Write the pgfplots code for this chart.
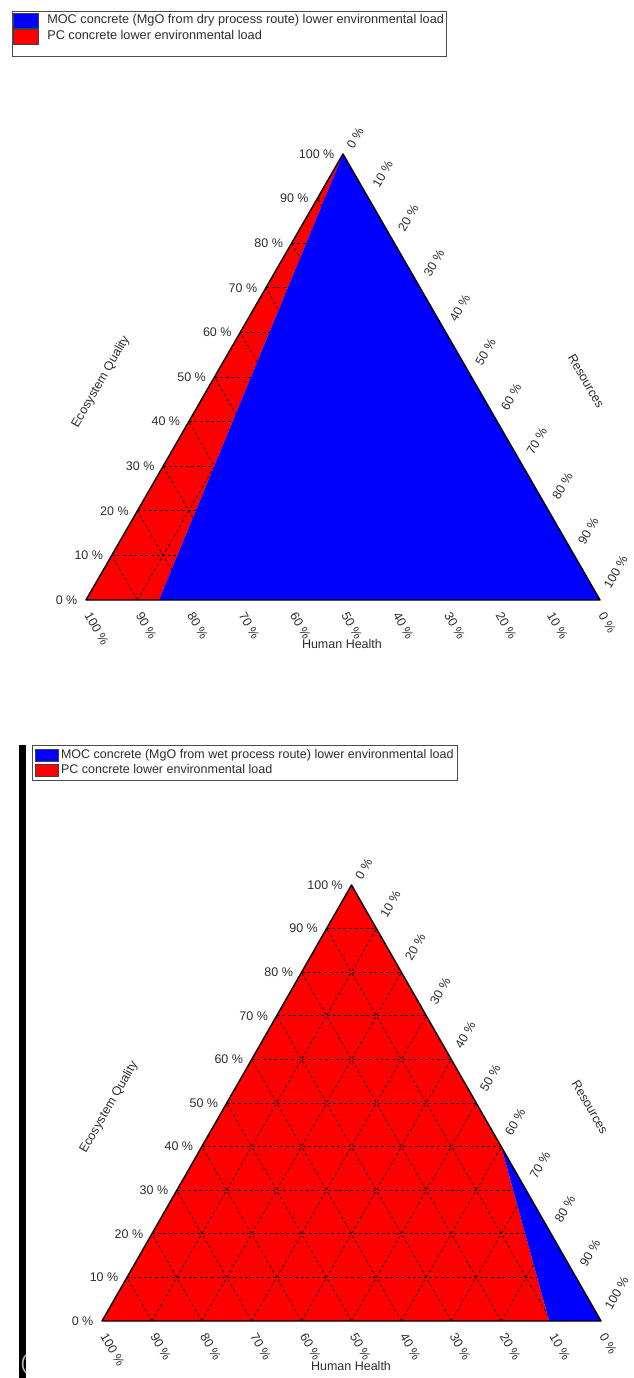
\documentclass[border=0pt]{standalone}
\usepackage{fontspec}
\setmainfont{Liberation Sans}
\usepackage{pgfplots}
\pgfplotsset{compat=1.18}

\definecolor{mocblue}{RGB}{0,0,255}
\definecolor{pcred}{RGB}{255,0,0}
\definecolor{inkgray}{RGB}{45,45,45}

\newcommand{\labfont}{\fontsize{12.5}{14}\selectfont}

% Ternary diagram drawn in a plain axis:
%   x = Resources + Ecosystem Quality/2,  y = Ecosystem Quality
%   base-left = Human Health 100 %, apex = Ecosystem Quality 100 %,
%   base-right = Resources 100 %
\pgfplotsset{
  ternary frame/.style={
    scale only axis, hide axis, clip=false,
    xmin=0, xmax=1, ymin=0, ymax=1,
    anchor=south west,
    legend cell align=left,
  },
  gridline/.style={forget plot, black, line width=0.65pt, dash pattern=on 3pt off 2.6pt},
  frameline/.style={forget plot, black, line width=1.4pt, line join=round, line cap=round},
}
\tikzset{tern label/.style={font=\labfont, text=inkgray, inner sep=1.5pt}}

% dashed 10 % grid in all three directions
\newcommand{\ternarygrid}{%
  % constant Ecosystem Quality
  \addplot[gridline] coordinates {(0.05,0.1) (0.95,0.1)};
  \addplot[gridline] coordinates {(0.10,0.2) (0.90,0.2)};
  \addplot[gridline] coordinates {(0.15,0.3) (0.85,0.3)};
  \addplot[gridline] coordinates {(0.20,0.4) (0.80,0.4)};
  \addplot[gridline] coordinates {(0.25,0.5) (0.75,0.5)};
  \addplot[gridline] coordinates {(0.30,0.6) (0.70,0.6)};
  \addplot[gridline] coordinates {(0.35,0.7) (0.65,0.7)};
  \addplot[gridline] coordinates {(0.40,0.8) (0.60,0.8)};
  \addplot[gridline] coordinates {(0.45,0.9) (0.55,0.9)};
  % constant Resources
  \addplot[gridline] coordinates {(0.1,0) (0.55,0.9)};
  \addplot[gridline] coordinates {(0.2,0) (0.60,0.8)};
  \addplot[gridline] coordinates {(0.3,0) (0.65,0.7)};
  \addplot[gridline] coordinates {(0.4,0) (0.70,0.6)};
  \addplot[gridline] coordinates {(0.5,0) (0.75,0.5)};
  \addplot[gridline] coordinates {(0.6,0) (0.80,0.4)};
  \addplot[gridline] coordinates {(0.7,0) (0.85,0.3)};
  \addplot[gridline] coordinates {(0.8,0) (0.90,0.2)};
  \addplot[gridline] coordinates {(0.9,0) (0.95,0.1)};
  % constant Human Health
  \addplot[gridline] coordinates {(0.9,0) (0.45,0.9)};
  \addplot[gridline] coordinates {(0.8,0) (0.40,0.8)};
  \addplot[gridline] coordinates {(0.7,0) (0.35,0.7)};
  \addplot[gridline] coordinates {(0.6,0) (0.30,0.6)};
  \addplot[gridline] coordinates {(0.5,0) (0.25,0.5)};
  \addplot[gridline] coordinates {(0.4,0) (0.20,0.4)};
  \addplot[gridline] coordinates {(0.3,0) (0.15,0.3)};
  \addplot[gridline] coordinates {(0.2,0) (0.10,0.2)};
  \addplot[gridline] coordinates {(0.1,0) (0.05,0.1)};
}

% outline and percentage labels on the three sides
\newcommand{\ternaryframe}{%
  \addplot[frameline] coordinates {(0,0) (1,0) (0.5,1) (0,0)};
  \pgfplotsinvokeforeach{0,...,10}{%
    \node[tern label, anchor=east, xshift=-7pt]
      at (axis cs:{##1*0.05},{##1*0.1}) {\pgfmathparse{int(##1*10)}\pgfmathresult~\%};
    \node[tern label, xshift=1pt, yshift=-12pt, rotate=-60, anchor=west]
      at (axis cs:{1-##1*0.1},0) {\pgfmathparse{int(##1*10)}\pgfmathresult~\%};
  }%
  \node[tern label, xshift=6pt, yshift=5pt, rotate=60, anchor=west]
    at (axis cs:0.5,1) {0~\%};
  \pgfplotsinvokeforeach{1,...,10}{%
    \node[tern label, xshift=6pt, yshift=11pt, rotate=60, anchor=west]
      at (axis cs:{0.5+##1*0.05},{1-##1*0.1}) {\pgfmathparse{int(##1*10)}\pgfmathresult~\%};
  }%
}

\begin{document}
\begin{tikzpicture}[x=1pt, y=1pt]
\path[use as bounding box] (0,0) rectangle (633,-1378);

% ---------------- dry process route ----------------
\begin{axis}[ternary frame,
  width=514pt, height=446pt, at={(86pt,-600pt)},
  legend image code/.code={\draw[#1, draw=black!75, line width=0.4pt] (0pt,-7.5pt) rectangle (25pt,7.5pt);},
  legend style={at={(-0.144,1.3206)}, anchor=north west,
    draw=black!70, line width=0.8pt, fill=white,
    font=\fontsize{12.7}{14}\selectfont, text=inkgray,
    inner xsep=1pt, inner ysep=1pt, row sep=0pt, column sep=7pt,
    nodes={inner sep=1.5pt, text height=9.5pt, text depth=3.5pt}},
]
  % PC concrete lower environmental load
  \addplot[forget plot, fill=pcred, draw=none] coordinates {(0,0) (0.142,0) (0.5,1)};
  \ternarygrid
  % MOC concrete lower environmental load
  \addplot[forget plot, fill=mocblue, draw=none] coordinates {(0.142,0) (1,0) (0.5,1)};
  \ternaryframe
  \node[tern label, rotate=60] at (axis cs:0.029,0.489) {Ecosystem Quality};
  \node[tern label, rotate=-60] at (axis cs:0.973,0.491) {Resources};
  \node[tern label] at (axis cs:0.498,-0.099) {Human Health};
  \addlegendimage{fill=mocblue}
  \addlegendentry{MOC concrete (MgO from dry process route) lower environmental load}
  \addlegendimage{fill=pcred}
  \addlegendentry{PC concrete lower environmental load}
  \addlegendimage{empty legend}
  \addlegendentry[text height=8pt, text depth=0pt]{}
\end{axis}

% ---------------- wet process route ----------------
\fill[black] (19,-745) rectangle (26,-1378);
\node[text=gray!55, font=\fontsize{20}{20}\selectfont, inner sep=0pt] at (24,-1364) {(};

\begin{axis}[ternary frame,
  width=499pt, height=436pt, at={(102pt,-1321pt)},
  legend image code/.code={\draw[#1, draw=black!75, line width=0.4pt] (0pt,-6.25pt) rectangle (23pt,6.25pt);},
  legend style={at={(-0.1403,1.3211)}, anchor=north west,
    draw=black!70, line width=0.8pt, fill=white,
    font=\fontsize{12.5}{14}\selectfont, text=inkgray,
    inner xsep=2.5pt, inner ysep=2.5pt, row sep=0pt, column sep=1.5pt,
    nodes={inner sep=1.25pt, text height=9pt, text depth=3.5pt}},
]
  % PC concrete lower environmental load
  \addplot[forget plot, fill=pcred, draw=none] coordinates {(0,0) (0.896,0) (0.8,0.4) (0.5,1)};
  \ternarygrid
  % MOC concrete lower environmental load
  \addplot[forget plot, fill=mocblue, draw=none] coordinates {(0.896,0) (1,0) (0.8,0.4)};
  \ternaryframe
  \node[tern label, rotate=60] at (axis cs:0.014,0.49) {Ecosystem Quality};
  \node[tern label, rotate=-60] at (axis cs:0.978,0.49) {Resources};
  \node[tern label] at (axis cs:0.499,-0.103) {Human Health};
  \addlegendimage{fill=mocblue}
  \addlegendentry{MOC concrete (MgO from wet process route) lower environmental load}
  \addlegendimage{fill=pcred}
  \addlegendentry{PC concrete lower environmental load}
\end{axis}
\end{tikzpicture}
\end{document}
